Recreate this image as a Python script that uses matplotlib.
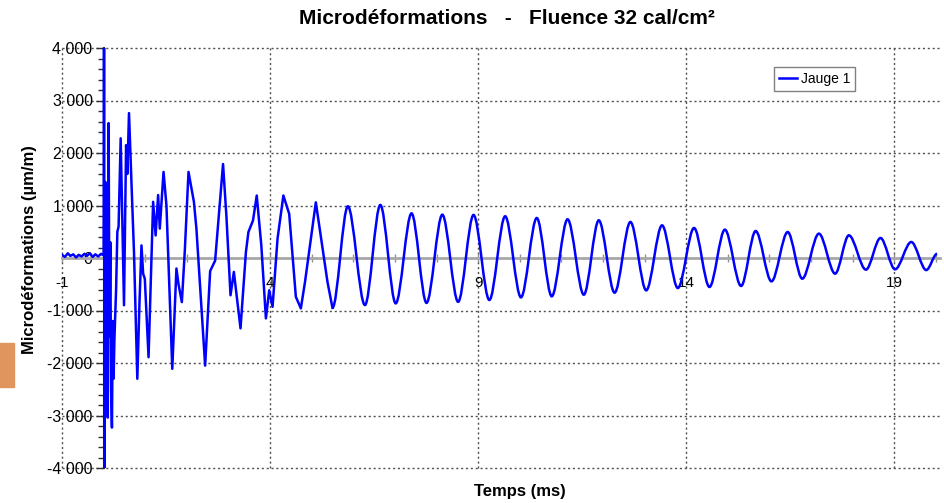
import matplotlib
matplotlib.use("Agg")
import matplotlib.pyplot as plt
from matplotlib.patches import Rectangle, PathPatch
from matplotlib.path import Path
from matplotlib.lines import Line2D
from matplotlib.ticker import FixedLocator, MultipleLocator

plt.rcParams['font.family'] = ['Liberation Sans', 'DejaVu Sans']

# pre-trigger noise, t in ms, strain in µm/m
pre_t = [-1.0, -0.93, -0.86, -0.8, -0.73, -0.66, -0.6, -0.53, -0.46, -0.4,
         -0.33, -0.26, -0.2, -0.13, -0.06, 0.0]
pre_v = [60, 20, 90, 40, 70, 10, 60, 30, 80, 40, 90, 20, 70, 30, 80, 50]

# shock part (0 - 5.5 ms)
shock_t = [0.01, 0.025, 0.04, 0.06, 0.08, 0.10, 0.12, 0.14, 0.16, 0.18, 0.20,
           0.22, 0.24, 0.26, 0.30, 0.33, 0.36, 0.41, 0.45, 0.49, 0.54, 0.57,
           0.61, 0.68, 0.73, 0.81, 0.86, 0.91, 0.95, 0.99, 1.08, 1.19, 1.25,
           1.31, 1.35, 1.44, 1.51, 1.65, 1.75, 1.80, 1.88, 1.95, 2.04, 2.17,
           2.23, 2.44, 2.56, 2.68, 2.87, 2.95, 3.05, 3.13, 3.29, 3.42, 3.48,
           3.59, 3.68, 3.79, 3.90, 3.98, 4.06, 4.18, 4.32, 4.46, 4.62, 4.74,
           4.84, 5.10, 5.38]
shock_v = [4000, -4000, 1450, -2900, 900, -3040, 2570, -1500, 300, -2500, -3230,
           -1200, -2300, -1540, -600, 500, 600, 2280, 700, -900, 2150, 1600,
           2760, 1200, 115, -2300, -900, 240, -300, -395, -1890, 1070, 430,
           1200, 560, 1640, 1000, -2110, -200, -500, -840, 115, 1640, 1070,
           560, -2050, -250, -50, 1790, 810, -710, -265, -1340, 115, 495,
           715, 1190, 240, -1150, -615, -930, 370, 1190, 840, -740, -960,
           -455, 1060, -455]

# free oscillation: peaks and troughs (5.5 - 20 ms)
osc_t = [5.50, 5.87, 6.28, 6.65, 7.02, 7.40, 7.76, 8.14, 8.52, 8.89, 9.27, 9.65,
         10.03, 10.41, 10.77, 11.15, 11.54, 11.90, 12.28, 12.66, 13.04, 13.42,
         13.80, 14.19, 14.56, 14.93, 15.32, 15.67, 16.05, 16.44, 16.79, 17.19,
         17.58, 17.91, 18.32, 18.67, 19.02, 19.41, 19.77, 20.03]
osc_v = [-950, 984, -896, 1010, -864, 850, -855, 825, -835, 820, -800, 795,
         -750, 762, -730, 737, -699, 718, -660, 686, -616, 622,
         -572, 572, -552, 540, -533, 514, -445, 495, -394, 464,
         -298, 432, -222, 381, -216, 305, -230, 80]

x_major = [-1, 4, 9, 14, 19]
x_labels = ["-1", "4", "9", "14", "19"]
y_major = [-4000, -3000, -2000, -1000, 0, 1000, 2000, 3000, 4000]
y_labels = ["-4 000", "-3 000", "-2 000", "-1 000", "0",
            "1 000", "2 000", "3 000", "4 000"]

blue = "#0000ff"

fig = plt.figure(figsize=(9.44, 5.03), dpi=100)
ax = fig.add_axes([62/944, 1-468/503, 878/944, 420/503])

# noisy start + shock: straight segments
ax.plot(pre_t + shock_t + osc_t[:1], pre_v + shock_v + osc_v[:1],
        color=blue, lw=1.8, zorder=3)

# ringing: smooth curve through the read peaks/troughs
verts = [(osc_t[0], osc_v[0])]
codes = [Path.MOVETO]
for i in range(1, len(osc_t)):
    t0, v0, t1, v1 = osc_t[i-1], osc_v[i-1], osc_t[i], osc_v[i]
    d = (t1 - t0) / 3
    verts += [(t0 + d, v0), (t1 - d, v1), (t1, v1)]
    codes += [Path.CURVE4] * 3
ax.add_patch(PathPatch(Path(verts, codes), fill=False, edgecolor=blue,
                       lw=1.8, zorder=3))

ax.set_xlim(-1, 20.1)
ax.set_ylim(-4000, 4000)

for s in ["top", "right"]:
    ax.spines[s].set_visible(False)
ax.spines["left"].set_position(("data", 0))
ax.spines["left"].set_color("#303030")
ax.spines["left"].set_linewidth(1.5)
ax.spines["bottom"].set_position(("data", 0))
ax.spines["bottom"].set_color("#a8a8a8")
ax.spines["bottom"].set_linewidth(2)

ax.xaxis.set_major_locator(FixedLocator(x_major))
ax.set_xticklabels(x_labels)
ax.xaxis.set_minor_locator(MultipleLocator(1))
ax.yaxis.set_major_locator(FixedLocator(y_major))
ax.set_yticklabels(y_labels)
ax.yaxis.set_minor_locator(MultipleLocator(200))

ax.tick_params(axis="x", which="both", direction="inout", length=6,
               color="#909090", width=1, labelsize=11, pad=10)
ax.tick_params(axis="y", which="major", direction="out", length=6,
               color="#303030", width=1, labelsize=11.5, pad=2)
ax.tick_params(axis="y", which="minor", direction="out", length=4,
               color="#303030", width=1)

ax.grid(True, which="major", linestyle=(0, (1.5, 2)), color="#505050", lw=1)
for gl in ax.get_xgridlines() + ax.get_ygridlines():
    gl.set_clip_on(False)

ax.set_xlabel("Temps (ms)", fontsize=12, fontweight="bold")
ax.set_ylabel("Microdéformations (µm/m)", fontsize=12, fontweight="bold")
ax.xaxis.set_label_coords((520-62)/878, (468-484)/420)
ax.yaxis.set_label_coords((37-62)/878, 0.52)

fig.text(507/944, 1-18/503, "Microdéformations   -   Fluence 32 cal/cm²",
         ha="center", va="center", fontsize=15, fontweight="bold")

ax.legend(handles=[Line2D([0], [0], color=blue, lw=1.8)], labels=["Jauge 1"],
          loc="upper right", bbox_to_anchor=((855-62)/878, (468-67)/420),
          borderaxespad=0, fancybox=False, edgecolor="#808080", fontsize=10,
          handlelength=1.3, handletextpad=0.3, borderpad=0.35, framealpha=1)

fig.patches.append(Rectangle((0, 1-387/503), 14/944, 44/503,
                             transform=fig.transFigure, color="#e0955f"))

fig.savefig("out.png", dpi=100)
